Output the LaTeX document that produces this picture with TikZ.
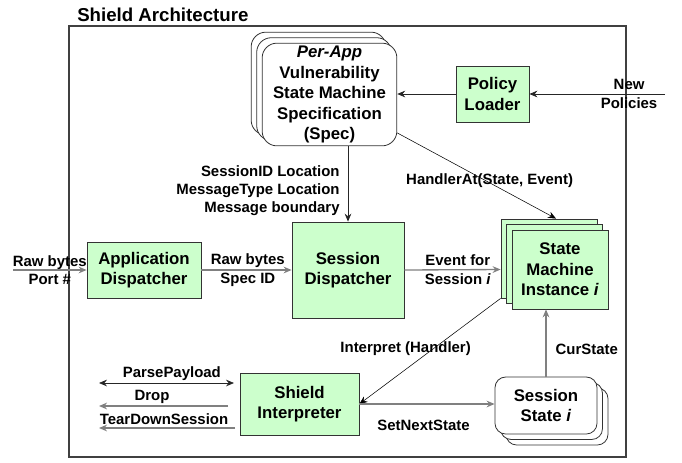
\documentclass[tikz,border=0pt]{standalone}
\usepackage{fontspec}
\setmainfont{Liberation Sans}
\usetikzlibrary{arrows.meta,shadows}

\definecolor{boxgreen}{HTML}{CCFFCC}
\definecolor{boxline}{HTML}{333333}
\definecolor{linegray}{HTML}{808080}
\newcommand{\bxfont}{\bfseries\fontsize{12.6}{15.4}\selectfont}
\newcommand{\lblfont}{\bfseries\fontsize{11.2}{13.8}\selectfont}

\begin{document}
\begin{tikzpicture}[
    x=0.75pt, y=-0.75pt,
    >={Stealth[length=6pt,width=5pt,inset=2pt]},
    box/.style={draw=boxline, fill=boxgreen, line width=0.6pt, inner sep=0pt, align=center, font=\bxfont},
    upleft/.style={copy shadow={shadow xshift=-8.25pt, shadow yshift=8.25pt, line width=0.6pt, draw=boxline, #1},
                   copy shadow={shadow xshift=-4.1pt, shadow yshift=4.1pt, line width=0.6pt, draw=boxline, #1}},
    downright/.style={copy shadow={shadow xshift=8.25pt, shadow yshift=-8.25pt, line width=0.6pt, draw=boxline, #1},
                      copy shadow={shadow xshift=4.1pt, shadow yshift=-4.1pt, line width=0.6pt, draw=boxline, #1}},
    lbl/.style={font=\lblfont, align=center, inner sep=0pt},
    link/.style={draw=black!85, line width=0.6pt, ->},
    thinlink/.style={draw=black, line width=0.4pt, ->},
    conn/.style={draw=linegray, line width=1pt, ->},
    frame/.style={draw=black!75, line width=1.5pt}
]
\useasboundingbox (0,0) rectangle (682,462);

% Frame and title
\draw[frame] (69,26) rectangle (626,457);
\node[font=\bfseries\fontsize{14}{17}\selectfont, anchor=west, inner sep=0pt] (title) at (77,15) {Shield Architecture};

% Define components
\node[box, fill=white, rounded corners=11pt, upleft={fill=white}, minimum width=101pt, minimum height=77pt] (spec) at (329.5,94.5)
    {\textit{Per-App}\\Vulnerability\\State Machine\\Specification\\(Spec)};
\node[box, minimum width=54.75pt, minimum height=42pt] (loader) at (492.5,94) {Policy\\Loader};
\node[box, minimum width=85.5pt, minimum height=42pt] (appd) at (144,270) {Application\\Dispatcher};
\node[box, minimum width=84pt, minimum height=72pt] (sdisp) at (348,270) {Session\\Dispatcher};
\node[box, upleft={fill=boxgreen}, minimum width=72pt, minimum height=59.25pt] (sm) at (560,269.5) {State\\Machine\\Instance \textit{i}};
\node[box, minimum width=89.25pt, minimum height=46.5pt] (si) at (299.5,404) {Shield\\Interpreter};
\node[box, fill=white, rounded corners=8pt, downright={fill=white}, minimum width=76.5pt, minimum height=42.75pt] (ss) at (546,405.5) {Session\\State \textit{i}};

% Free ends
\coordinate (newpol) at (665,94);
\coordinate (rawin) at (13,270);
\coordinate (pp) at (99,383);
\coordinate (ppend) at (234,383);
\coordinate (drop) at (99,406);
\coordinate (dropend) at (228,406);
\coordinate (td) at (99,428);
\coordinate (tdend) at (235,428);

% Policy loading
\draw[link] (newpol) -- node[lbl, pos=0.265] {New\\Policies} (loader.east);
\draw[link] (loader.west) -- (loader.west -| spec.east);
\draw[link] (spec.south -| sdisp.north) -- node[lbl, left=6pt, pos=0.59, align=right]
    {SessionID Location\\MessageType Location\\Message boundary} (sdisp.north);
\draw[thinlink] ([yshift=10pt]spec.south east) -- node[lbl, pos=0.56, xshift=2.6pt] {HandlerAt(State, Event)} ([xshift=-3pt,yshift=8.25pt]sm.north);

% Packet path
\draw[conn] (rawin) -- node[lbl] {Raw bytes\\Port \#} (appd.west);
\draw[conn] (appd.east) -- node[lbl, xshift=1pt] {Raw bytes\\Spec ID} (sdisp.west);
\draw[conn] (sdisp.east) -- node[lbl, xshift=4pt] {Event for\\Session \textit{i}} ([xshift=-8.25pt]sm.west);

% Interpretation
\draw[thinlink] ([xshift=-8.25pt,yshift=8.25pt]sm.south west) -- node[lbl, pos=0.48, xshift=-20.4pt] {Interpret (Handler)} (si.east);
\draw[conn] (si.east) -- node[lbl, yshift=-15.75pt, xshift=-2.6pt] {SetNextState} (si.east -| ss.west);
\draw[conn] (ss.north) -- node[lbl, right=6.75pt, pos=0.41] {CurState} (ss.north |- sm.south);

% Actions
\draw[link, <->] (pp) -- node[lbl, yshift=6.75pt, xshift=4pt] {ParsePayload} (ppend);
\draw[conn] (dropend) -- node[lbl, yshift=6.75pt, xshift=-8.6pt] {Drop} (drop);
\draw[conn] (tdend) -- node[lbl, yshift=6.75pt, xshift=-2.25pt] {TearDownSession} (td);

\end{tikzpicture}
\end{document}
